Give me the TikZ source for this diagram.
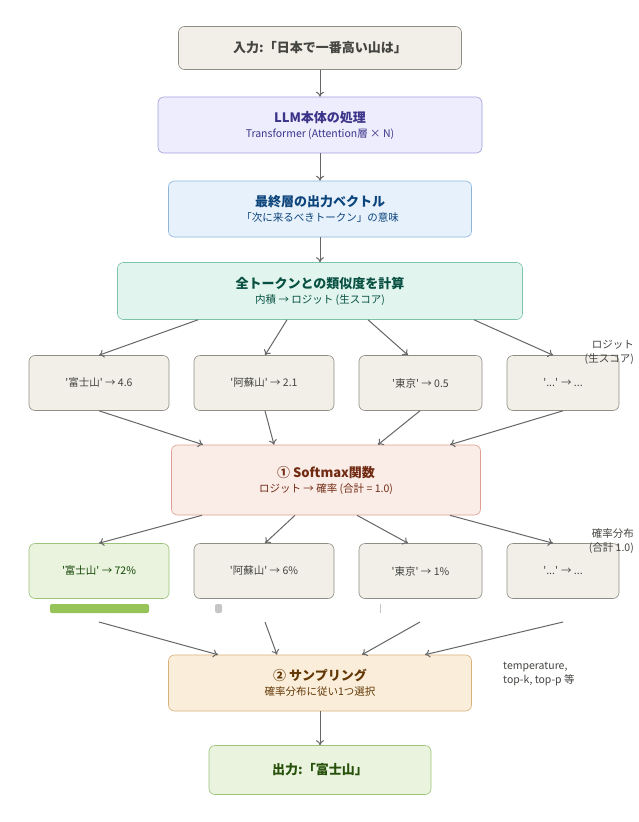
\documentclass[tikz,border=0pt]{standalone}
\usepackage{fontspec}
\setmainfont{Noto Sans CJK JP}
\usetikzlibrary{arrows.meta}
\newcommand{\sq}{\textquotesingle}
\definecolor{gbg}{HTML}{F1EFE8}\definecolor{gbd}{HTML}{8F8E86}\definecolor{gtx}{HTML}{444441}
\definecolor{pbg}{HTML}{EEEDFE}\definecolor{pbd}{HTML}{A3A0DC}\definecolor{ptx}{HTML}{3C3489}
\definecolor{bbg}{HTML}{E6F1FB}\definecolor{bbd}{HTML}{8DB6DD}\definecolor{btx}{HTML}{0C447C}
\definecolor{tbg}{HTML}{E1F5EE}\definecolor{tbd}{HTML}{7CC4A6}\definecolor{ttx}{HTML}{085041}
\definecolor{cbg}{HTML}{FAECE7}\definecolor{cbd}{HTML}{DDA090}\definecolor{ctx}{HTML}{712B13}
\definecolor{abg}{HTML}{FAEEDA}\definecolor{abd}{HTML}{D9B27A}\definecolor{atx}{HTML}{633806}
\definecolor{lbg}{HTML}{EAF3DE}\definecolor{lbd}{HTML}{9DC27A}\definecolor{ltx}{HTML}{27500A}
\definecolor{bar}{HTML}{97C459}
\begin{document}
\begin{tikzpicture}[x=1pt,y=-1pt,
 box/.style={draw=#1bd,fill=#1bg,text=#1tx,rounded corners=6pt,line width=0.6pt,align=center,inner sep=0pt},
 tl/.style={font=\bfseries\fontsize{13}{15}\selectfont},
 sl/.style={font=\fontsize{10.5}{13}\selectfont},
 arr/.style={draw=gray!80!black,line width=1pt,-{To[length=5pt,width=8pt]}},
 note/.style={font=\fontsize{10.5}{14}\selectfont,text=gtx,align=#1,inner sep=0pt}]
\useasboundingbox (0,0) rectangle (638,822);
\fill[white] (0,0) rectangle (638,822);
\node[box=g,minimum width=283pt,minimum height=43pt,tl] (in) at (320,48) {入力:「日本で一番高い山は」};
\node[box=p,minimum width=324pt,minimum height=56pt] (llm) at (320,125) {{\bfseries\fontsize{13}{15}\selectfont LLM本体の処理}\\[3pt]{\fontsize{10.5}{13}\selectfont Transformer (Attention層 × N)}};
\node[box=b,minimum width=303pt,minimum height=56pt] (fin) at (320,209) {{\bfseries\fontsize{13}{15}\selectfont 最終層の出力ベクトル}\\[3pt]{\fontsize{10.5}{13}\selectfont 「次に来るべきトークン」の意味}};
\node[box=t,minimum width=405pt,minimum height=57pt] (sim) at (320,291) {{\bfseries\fontsize{13}{15}\selectfont 全トークンとの類似度を計算}\\[3pt]{\fontsize{10.5}{13}\selectfont 内積 → ロジット (生スコア)}};
\node[box=g,minimum width=140pt,minimum height=55pt,sl] (l1) at (99,383) {\sq 富士山\sq{} → 4.6};
\node[box=g,minimum width=140pt,minimum height=55pt,sl] (l2) at (264,383) {\sq 阿蘇山\sq{} → 2.1};
\node[box=g,minimum width=123pt,minimum height=55pt,sl] (l3) at (420.5,383) {\sq 東京\sq{} → 0.5};
\node[box=g,minimum width=112pt,minimum height=55pt,sl] (l4) at (563,383) {\sq...\sq{} → ...};
\node[box=c,minimum width=309pt,minimum height=70pt] (sm) at (326,480) {{\bfseries\fontsize{13}{15}\selectfont ① Softmax関数}\\[3pt]{\fontsize{10.5}{13}\selectfont ロジット → 確率 (合計 = 1.0)}};
\node[box=l,text=ltx!80!green!60!black,minimum width=140pt,minimum height=55pt,sl] (p1) at (99,571) {\sq 富士山\sq{} → 72\%};
\node[box=g,minimum width=140pt,minimum height=55pt,sl] (p2) at (264,571) {\sq 阿蘇山\sq{} → 6\%};
\node[box=g,minimum width=123pt,minimum height=55pt,sl] (p3) at (420.5,571) {\sq 東京\sq{} → 1\%};
\node[box=g,minimum width=112pt,minimum height=55pt,sl] (p4) at (563,571) {\sq...\sq{} → ...};
\fill[bar,rounded corners=2pt] (50,670/2+269) rectangle (149,613);
\fill[gray!45,rounded corners=2pt] (215,604) rectangle (222,613);
\draw[gray!45,line width=0.8pt] (380,604) -- (380,613);
\node[box=a,minimum width=303pt,minimum height=56pt] (sa) at (320,683) {{\bfseries\fontsize{13}{15}\selectfont ② サンプリング}\\[3pt]{\fontsize{10.5}{13}\selectfont 確率分布に従い1つ選択}};
\node[box=l,minimum width=222pt,minimum height=49pt,tl] (out) at (320,770) {出力:「富士山」};
\node[note=right,anchor=north east] (n1) at (634,340) {ロジット\\(生スコア)};
\node[note=right,anchor=north east] (n2) at (634,528) {確率分布\\(合計 1.0)};
\node[note=left,anchor=north west] (n3) at (503,662) {temperature,\\top-k, top-p 等};
\draw[arr] (in) -- (llm);
\draw[arr] (llm) -- (fin);
\draw[arr] (fin) -- (sim);
\draw[arr] (sa) -- (out);
\draw[arr] (sim.south -| 198,0) -- (l1.north -| 99,0);
\draw[arr] (sim.south -| 287,0) -- (l2.north -| 265,0);
\draw[arr] (sim.south -| 368,0) -- (l3.north -| 408,0);
\draw[arr] (sim.south -| 474,0) -- (l4.north -| 553,0);
\draw[arr] (l1.south -| 99,0) -- (sm.north -| 203,0);
\draw[arr] (l2.south -| 265,0) -- (sm.north -| 274,0);
\draw[arr] (l3.south -| 420,0) -- (sm.north -| 378,0);
\draw[arr] (l4.south -| 563,0) -- (sm.north -| 450,0);
\draw[arr] (sm.south -| 202,0) -- (p1.north -| 99,0);
\draw[arr] (sm.south -| 295,0) -- (p2.north -| 265,0);
\draw[arr] (sm.south -| 357,0) -- (p3.north -| 408,0);
\draw[arr] (sm.south -| 450,0) -- (p4.north -| 553,0);
\coordinate (q1) at (99,622); \coordinate (q2) at (265,622);
\coordinate (q3) at (420,622); \coordinate (q4) at (563,622);
\draw[arr] (q1) -- (sa.north -| 218,0);
\draw[arr] (q2) -- (sa.north -| 277,0);
\draw[arr] (q3) -- (sa.north -| 362,0);
\draw[arr] (q4) -- (sa.north -| 425,0);
\end{tikzpicture}
\end{document}
